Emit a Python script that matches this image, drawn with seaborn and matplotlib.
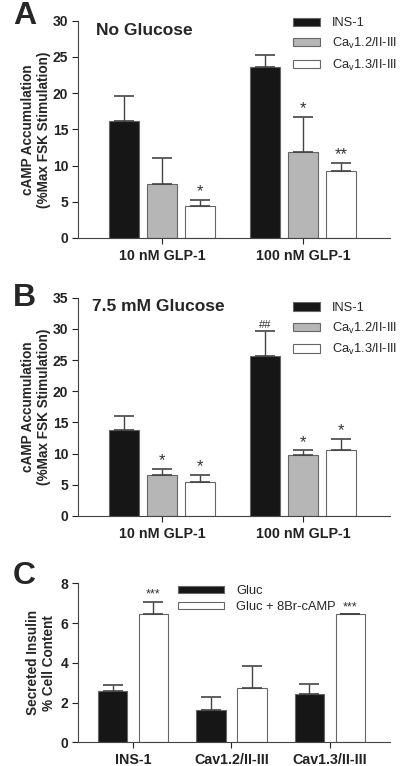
import matplotlib
matplotlib.use("Agg")
import matplotlib.pyplot as plt
import pandas as pd
import seaborn as sns

# ---- data ----
doses = ["10 nM GLP-1", "100 nM GLP-1"]
lines_ab = ["INS-1", "Ca$_v$1.2/II-III", "Ca$_v$1.3/II-III"]

a_mean = {"INS-1": [16.2, 23.6], "Ca$_v$1.2/II-III": [7.4, 11.9], "Ca$_v$1.3/II-III": [4.4, 9.3]}
a_sem = {"INS-1": [3.4, 1.7], "Ca$_v$1.2/II-III": [3.7, 4.8], "Ca$_v$1.3/II-III": [0.9, 1.1]}
a_marks = {(2, 0): "*", (1, 1): "*", (2, 1): "**"}

b_mean = {"INS-1": [13.8, 25.6], "Ca$_v$1.2/II-III": [6.6, 9.7], "Ca$_v$1.3/II-III": [5.4, 10.5]}
b_sem = {"INS-1": [2.3, 4.1], "Ca$_v$1.2/II-III": [1.0, 0.8], "Ca$_v$1.3/II-III": [1.2, 1.8]}
b_marks = {(1, 0): "*", (2, 0): "*", (0, 1): "##", (1, 1): "*", (2, 1): "*"}

cells = ["INS-1", "Cav1.2/II-III", "Cav1.3/II-III"]
treat = ["Gluc", "Gluc + 8Br-cAMP"]
c_mean = {"Gluc": [2.6, 1.65, 2.45], "Gluc + 8Br-cAMP": [6.48, 2.71, 6.45]}
c_sem = {"Gluc": [0.28, 0.63, 0.47], "Gluc + 8Br-cAMP": [0.6, 1.12, 0.02]}
c_marks = {(1, 0): "***", (1, 2): "***"}

sns.set_style("ticks")
plt.rcParams["font.family"] = ["Liberation Sans", "DejaVu Sans"]
plt.rcParams["mathtext.default"] = "regular"

fig = plt.figure(figsize=(4.07, 7.66), dpi=100)
ax_a = fig.add_axes([0.1916, 0.6893, 0.7666, 0.2837])
ax_b = fig.add_axes([0.1916, 0.3264, 0.7666, 0.2850])
ax_c = fig.add_axes([0.1916, 0.0309, 0.7666, 0.2076])


def long_df(cats, groups, means, xname, hname):
    rows = []
    for g in groups:
        for c, v in zip(cats, means[g]):
            rows.append({xname: c, hname: g, "val": v})
    return pd.DataFrame(rows)


def panel(ax, cats, groups, means, sems, marks, palette, width, gap, star_size=12):
    df = long_df(cats, groups, means, "x", "h")
    sns.barplot(data=df, x="x", y="val", hue="h", hue_order=groups, order=cats,
                palette=palette, saturation=1, width=width, gap=gap,
                edgecolor="#666666", linewidth=0.8, errorbar=None, ax=ax)
    for i, (g, cont) in enumerate(zip(groups, ax.containers)):
        for j, bar in enumerate(cont):
            xc = bar.get_x() + bar.get_width() / 2
            top = means[g][j]
            err = sems[g][j]
            ax.errorbar(xc, top, yerr=[[0], [err]], fmt="none", ecolor="#444444",
                        elinewidth=1, capsize=7, capthick=1.2, zorder=1)
            if (i, j) in marks:
                m = marks[(i, j)]
                ax.annotate(m, (xc, top + err), xytext=(0, 0.5),
                            textcoords="offset points", ha="center", va="bottom",
                            fontsize=star_size if m != "##" else 8,
                            color="#333333")
    handles, labels = ax.get_legend_handles_labels()
    ax.get_legend().remove()
    sns.despine(ax=ax)
    ax.tick_params(axis="both", direction="out", length=4, width=0.8,
                   labelsize=10, pad=3, colors="#222222")
    ax.tick_params(axis="x", labelsize=10.3, pad=4)
    for lab in ax.get_yticklabels() + ax.get_xticklabels():
        lab.set_fontweight("bold")
    ax.set_xlabel("")
    for sp in ax.spines.values():
        sp.set_color("#444444")
        sp.set_linewidth(0.8)
    return handles, labels


pal3 = ["#161616", "#b6b6b6", "white"]
ylab_ab = "cAMP Accumulation\n(%Max FSK Stimulation)"

h, l = panel(ax_a, doses, lines_ab, a_mean, a_sem, a_marks, pal3, 0.81, 0.21)
ax_a.set_ylim(0, 30)
ax_a.set_xlim(-0.596, 1.617)
ax_a.set_yticks(range(0, 31, 5))
ax_a.legend(h, l, loc="upper left", bbox_to_anchor=(0.689, 1.015), frameon=False,
            fontsize=9.3, handlelength=2.1, handleheight=0.6, handletextpad=0.9,
            labelspacing=0.5, borderpad=0, borderaxespad=0)
ax_a.set_ylabel(ylab_ab, fontsize=9.8, fontweight="bold", labelpad=1, linespacing=1.2)

h, l = panel(ax_b, doses, lines_ab, b_mean, b_sem, b_marks, pal3, 0.81, 0.21)
ax_b.set_ylim(0, 35)
ax_b.set_xlim(-0.596, 1.617)
ax_b.set_yticks(range(0, 36, 5))
ax_b.legend(h, l, loc="upper left", bbox_to_anchor=(0.689, 0.98), frameon=False,
            fontsize=9.3, handlelength=2.1, handleheight=0.6, handletextpad=0.9,
            labelspacing=0.5, borderpad=0, borderaxespad=0)
ax_b.set_ylabel(ylab_ab, fontsize=9.8, fontweight="bold", labelpad=1, linespacing=1.2)

h, l = panel(ax_c, cells, treat, c_mean, c_sem, c_marks, ["#161616", "white"], 0.83, 0.277,
             star_size=9)
ax_c.set_ylim(0, 8)
ax_c.set_xlim(-0.558, 2.61)
ax_c.set_yticks(range(0, 9, 2))
ax_c.legend(h, l, loc="upper left", bbox_to_anchor=(0.32, 0.99), frameon=False,
            fontsize=9.3, handlelength=3.6, handleheight=0.5, handletextpad=0.9,
            labelspacing=0.3, borderpad=0, borderaxespad=0)
ax_c.set_ylabel("Secreted Insulin\n% Cell Content", fontsize=9.8,
                fontweight="bold", labelpad=3, linespacing=1.2)

# panel letters
for letter, ypix in [("A", 16), ("B", 298), ("C", 576)]:
    fig.text(13 / 407, 1 - ypix / 766, letter, fontsize=23, fontweight="bold",
             ha="left", va="center")

# subtitles
fig.text(96 / 407, 1 - 30.7 / 766, "No Glucose", fontsize=12.5, fontweight="bold",
         ha="left", va="center")
fig.text(92 / 407, 1 - 306.7 / 766, "7.5 mM Glucose", fontsize=12.5, fontweight="bold",
         ha="left", va="center")

fig.savefig("out.png", dpi=100)
